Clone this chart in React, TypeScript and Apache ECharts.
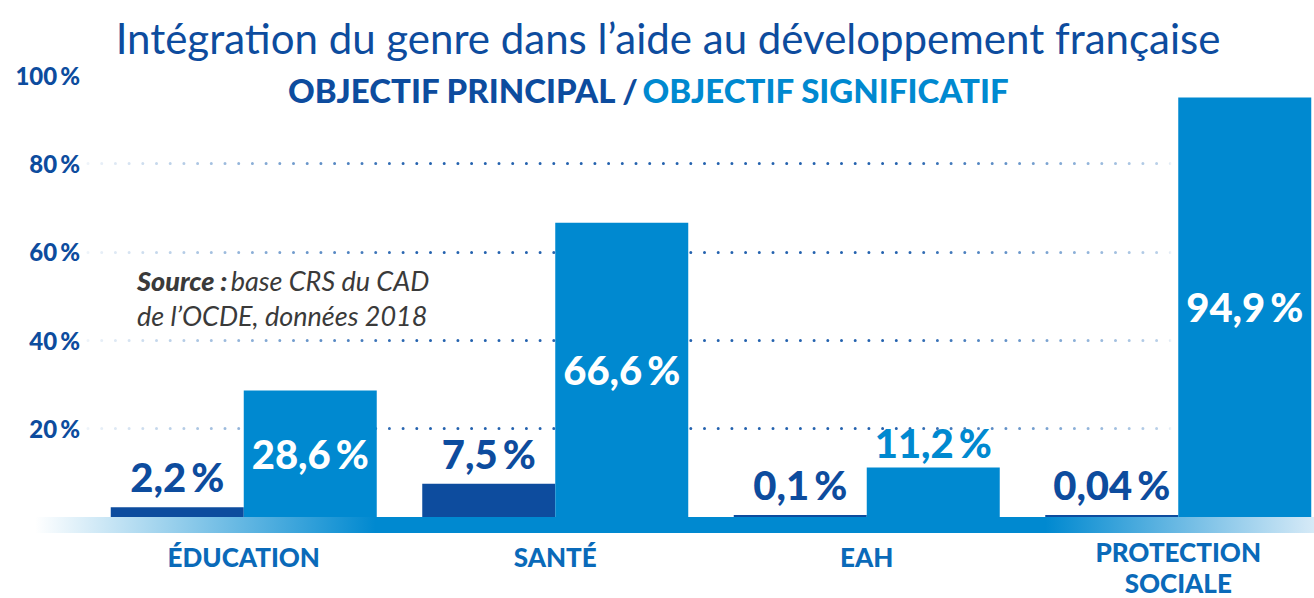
import React, { useEffect, useRef } from 'react';
import * as echarts from 'echarts';

const categories = ['ÉDUCATION', 'SANTÉ', 'EAH', 'PROTECTION\nSOCIALE'];
const principal = [2.2, 7.5, 0.1, 0.04];
const significatif = [28.6, 66.6, 11.2, 94.9];
const yMin = 0;
const yMax = 100;
const yInterval = 20;

const DARK = '#0d4c9e';
const LIGHT = '#0089d0';
const FONT = 'Lato, "Open Sans", sans-serif';

const fmt = (v: number) => String(v).replace('.', ',') + '\u2009%';

export default function App() {
  const ref = useRef<HTMLDivElement>(null);
  useEffect(() => {
    if (!ref.current) return;
    const chart = echarts.init(ref.current, undefined, { renderer: 'svg' });
    const gridGrad = new echarts.graphic.LinearGradient(88, 0, 1172, 0, [
      { offset: 0, color: 'rgba(40,110,185,0.08)' },
      { offset: 0.3, color: 'rgba(25,90,170,0.95)' },
      { offset: 0.75, color: 'rgba(25,90,170,0.95)' },
      { offset: 0.995, color: 'rgba(40,110,185,0.3)' },
      { offset: 1, color: 'rgba(40,110,185,0)' },
    ], true);
    const catStyle = { fontFamily: FONT, fontWeight: 900, fontSize: 26, lineHeight: 31, color: '#0a6ab9' };
    chart.setOption({
      animation: false,
      grid: { left: 88, right: 6, top: 75, bottom: 121, containLabel: false },
      xAxis: {
        type: 'category',
        data: categories,
        axisLine: { show: false },
        axisTick: { show: false },
        axisLabel: {
          margin: 19,
          interval: 0,
          ...catStyle,
          formatter: (v: string) =>
            v.indexOf('\n') >= 0
              ? v.split('\n').map((l) => `{m|${l}}`).join('\n')
              : `{s|${v}}`,
          rich: {
            m: { ...catStyle },
            s: { ...catStyle, padding: [10, 0, 0, 0] },
          },
        },
      },
      yAxis: {
        type: 'value',
        min: yMin,
        max: yMax,
        interval: yInterval,
        axisLine: { show: false },
        axisTick: { show: false },
        axisLabel: {
          margin: 8,
          fontFamily: FONT,
          fontWeight: 900,
          fontSize: 24,
          color: DARK,
          formatter: (v: number) => (v === 0 ? '' : v + '\u2009%'),
        },
        splitLine: {
          show: true,
          showMinLine: false,
          showMaxLine: false,
          lineStyle: { color: gridGrad, width: 3, type: [0, 13.7], cap: 'round' },
        },
      },
      series: [
        {
          type: 'bar',
          name: 'Objectif principal',
          data: principal,
          barWidth: 133,
          barGap: '0%',
          barMinHeight: 2,
          itemStyle: { color: DARK },
          label: {
            show: true,
            position: 'top',
            distance: 10,
            fontFamily: FONT,
            fontWeight: 900,
            fontSize: 40,
            color: DARK,
            formatter: (p: any) => fmt(p.value),
          },
          z: 3,
        },
        {
          type: 'bar',
          name: 'Objectif significatif',
          data: significatif.map((v) =>
            v < 20 ? { value: v, label: { position: 'top', color: LIGHT, distance: 4 } } : v
          ),
          barWidth: 133,
          barGap: '0%',
          itemStyle: { color: LIGHT },
          label: {
            show: true,
            position: 'inside',
            fontFamily: FONT,
            fontWeight: 900,
            fontSize: 40,
            color: '#ffffff',
            formatter: (p: any) => fmt(p.value),
          },
          z: 3,
        },
      ],
      graphic: [
        {
          type: 'rect',
          shape: { x: 35, y: 517, width: 1279, height: 16 },
          style: {
            fill: new echarts.graphic.LinearGradient(0, 0, 1, 0, [
              { offset: 0, color: 'rgba(0,137,208,0)' },
              { offset: 0.266, color: LIGHT },
              { offset: 0.79, color: LIGHT },
              { offset: 1, color: '#d6eaf7' },
            ]),
          },
          z: 10,
        },
        {
          type: 'text',
          x: 668,
          y: 38,
          style: {
            text: 'Intégration du genre dans l’aide au développement française',
            font: '42px ' + FONT,
            fill: DARK,
            align: 'center',
            verticalAlign: 'middle',
          },
          z: 10,
        },
        {
          type: 'text',
          x: 648,
          y: 90,
          style: {
            text: '{a|OBJECTIF PRINCIPAL /} {b|OBJECTIF SIGNIFICATIF}',
            align: 'center',
            verticalAlign: 'middle',
            rich: {
              a: { fontFamily: FONT, fontWeight: 900, fontSize: 33, fill: DARK },
              b: { fontFamily: FONT, fontWeight: 900, fontSize: 33, fill: LIGHT },
            },
          },
          z: 10,
        },
        {
          type: 'text',
          x: 137,
          y: 263,
          style: {
            text: '{b|Source :} {n|base CRS du CAD}\n{n|de l’OCDE, données 2018}',
            align: 'left',
            verticalAlign: 'top',
            rich: {
              b: { fontFamily: FONT, fontStyle: 'italic', fontWeight: 900, fontSize: 27, fill: '#3a3a3a', lineHeight: 35 },
              n: { fontFamily: FONT, fontStyle: 'italic', fontSize: 27, fill: '#3a3a3a', lineHeight: 35 },
            },
          },
          z: 10,
        },
      ],
    });
    return () => chart.dispose();
  }, []);
  return (
    <div style={{ position: 'fixed', left: 0, top: 0, width: 1314, height: 598, overflow: 'hidden', background: '#fff' }}>
      <div ref={ref} style={{ position: 'absolute', left: 0, top: 0, width: 1340, height: 638 }} />
    </div>
  );
}
